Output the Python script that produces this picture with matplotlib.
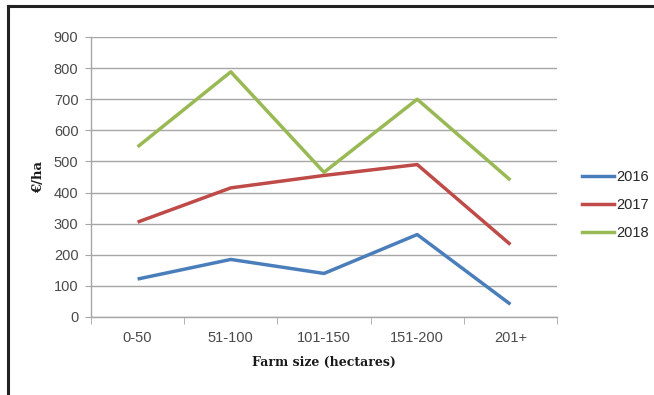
import matplotlib
matplotlib.use("Agg")
import matplotlib.pyplot as plt
from matplotlib.lines import Line2D

# Average payment per hectare by farm size band
categories = ["0-50", "51-100", "101-150", "151-200", "201+"]
years = ["2016", "2017", "2018"]
values_2016 = [122, 185, 140, 265, 41]
values_2017 = [305, 415, 455, 490, 233]
values_2018 = [547, 788, 465, 700, 440]
y_ticks = [0, 100, 200, 300, 400, 500, 600, 700, 800, 900]

series = [values_2016, values_2017, values_2018]
colors = ["#4A7EBB", "#BE4B48", "#98B954"]

W, H = 654, 395
fig = plt.figure(figsize=(W / 100, H / 100), dpi=100)
ax = fig.add_axes([91 / W, 1 - 317 / H, (557 - 91) / W, (317 - 37) / H])

x = list(range(len(categories)))
for vals, c, lab in zip(series, colors, years):
    ax.plot(x, vals, color=c, lw=2.5, label=lab, solid_capstyle="butt", zorder=3)

ax.set_xlim(-0.5, len(categories) - 0.5)
ax.set_ylim(0, 900)
ax.set_yticks(y_ticks)
ax.set_xticks(x)
ax.set_xticklabels(categories)
ax.set_xticks([i - 0.5 for i in range(len(categories) + 1)], minor=True)

grid_c = "#A6A6A6"
ax.yaxis.grid(True, color=grid_c, lw=1.0)
ax.set_axisbelow(True)
for s in ["top", "right"]:
    ax.spines[s].set_visible(False)
ax.spines["left"].set_color(grid_c)
ax.spines["bottom"].set_color(grid_c)
ax.spines["left"].set_linewidth(1.0)
ax.spines["bottom"].set_linewidth(1.0)

tick_font = "Liberation Sans"
ax.tick_params(axis="y", which="major", length=4, color=grid_c, labelsize=10.5,
               labelcolor="#4a4a4a", pad=5)
ax.tick_params(axis="x", which="major", length=0, labelsize=10.5,
               labelcolor="#4a4a4a", pad=10)
ax.tick_params(axis="x", which="minor", length=5, color=grid_c)
for t in ax.get_xticklabels() + ax.get_yticklabels():
    t.set_fontfamily(tick_font)

ax.set_ylabel("€/ha", fontfamily="DejaVu Serif", fontweight="bold", fontsize=9.5,
              labelpad=6, color="#1a1a1a")
ax.set_xlabel("Farm size (hectares)", fontfamily="DejaVu Serif", fontweight="bold",
              fontsize=9, labelpad=8, color="#1a1a1a")

handles = [Line2D([0], [0], color=c, lw=2.5) for c in colors]
leg = fig.legend(handles, years, loc="upper left",
                 bbox_to_anchor=(569 / W, 1 - 157 / H), frameon=False,
                 handlelength=2.2, handletextpad=0.15, labelspacing=0.95,
                 prop={"family": tick_font, "size": 10.5})
for t in leg.get_texts():
    t.set_color("#262626")

# Frame lines along the left and top edges
fig.add_artist(Line2D([8 / W, 8 / W], [0, 1 - 5.5 / H], color="#222222", lw=2.2,
                      solid_capstyle="projecting", transform=fig.transFigure))
fig.add_artist(Line2D([8 / W, 1], [1 - 5.5 / H, 1 - 5.5 / H], color="#222222", lw=2.2,
                      solid_capstyle="projecting", transform=fig.transFigure))

fig.savefig("out.png", dpi=100)
